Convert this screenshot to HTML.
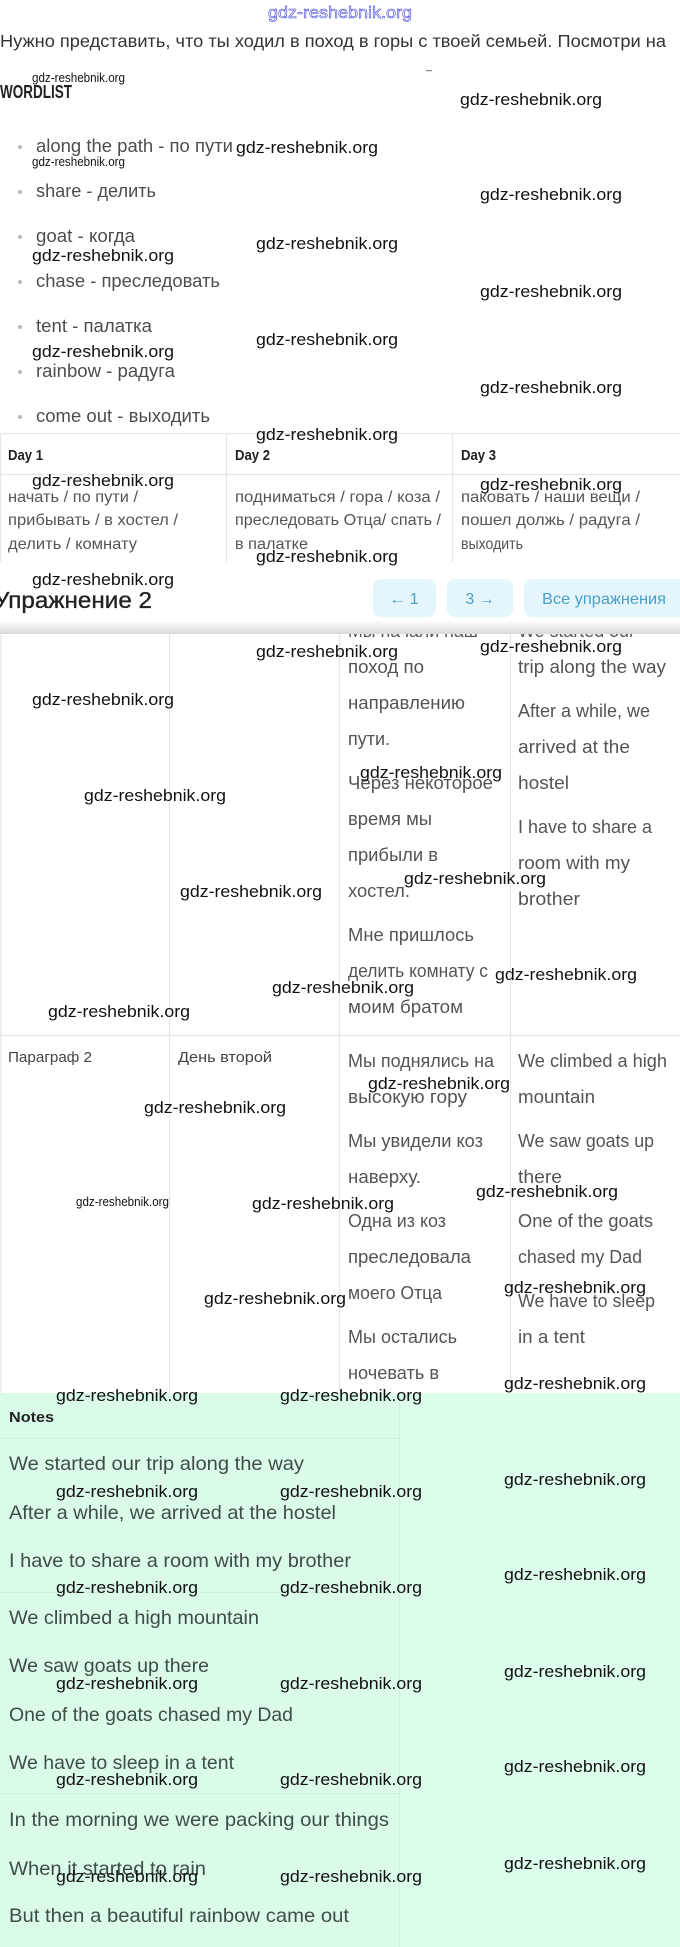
<!DOCTYPE html>
<html><head><meta charset="utf-8">
<style>
html,body{margin:0;padding:0;background:#fff;}
svg{display:block}
text{font-family:"Liberation Sans","DejaVu Sans",sans-serif;}
.wm{font-family:"Liberation Sans Narrow","Liberation Sans",sans-serif;fill:#111;font-size:17px}
.wms{font-family:"Liberation Sans Narrow","Liberation Sans",sans-serif;fill:#111;font-size:12.5px}
.li{font-size:18px;fill:#4d4d4d}
.hd{font-family:"Liberation Sans Narrow","Liberation Sans",sans-serif;font-weight:bold;fill:#222}
.tb{font-size:16px;fill:#555}
.tc{font-size:18px;fill:#545454}
.nt{font-size:19.5px;fill:#3f4d47}
.nr{font-family:"Liberation Sans Narrow","Liberation Sans",sans-serif;font-size:15px;fill:#444}
.bt{font-size:16px;fill:#4aa0c6}
</style></head><body>
<svg xmlns="http://www.w3.org/2000/svg" width="680" height="1947" viewBox="0 0 680 1947">
<defs>
<linearGradient id="sh" x1="0" y1="0" x2="0" y2="1">
<stop offset="0" stop-color="#ffffff"/>
<stop offset="1" stop-color="#d9d9d9"/>
</linearGradient>
<clipPath id="c2"><rect x="0" y="634" width="680" height="759"/></clipPath>
</defs>
<rect x="0" y="0" width="680" height="1947" fill="#fff"/>

<!-- top watermark -->
<text x="268" y="18" font-size="17" fill="#fff" stroke="#3434d8" stroke-width="0.55" textLength="144" lengthAdjust="spacingAndGlyphs" style="font-family:'Liberation Sans Narrow','Liberation Sans',sans-serif">gdz-reshebnik.org</text>

<!-- intro -->
<text x="0" y="47" font-size="17.5" fill="#333" textLength="666" lengthAdjust="spacingAndGlyphs">Нужно представить, что ты ходил в поход в горы с твоей семьей. Посмотри на</text>
<rect x="426" y="70" width="6" height="1.2" fill="#888"/>

<!-- WORDLIST -->
<text class="hd" x="0" y="98" font-size="18" textLength="72" lengthAdjust="spacingAndGlyphs">WORDLIST</text>

<!-- list -->
<g fill="#b8b8b8">
<circle cx="20" cy="147" r="2"/><circle cx="20" cy="192" r="2"/><circle cx="20" cy="237" r="2"/>
<circle cx="20" cy="282" r="2"/><circle cx="20" cy="327" r="2"/><circle cx="20" cy="372" r="2"/>
<circle cx="20" cy="417" r="2"/>
</g>
<text class="li" x="36" y="152" textLength="197" lengthAdjust="spacingAndGlyphs">along the path - по пути</text>
<text class="li" x="36" y="197" textLength="120" lengthAdjust="spacingAndGlyphs">share - делить</text>
<text class="li" x="36" y="242" textLength="99" lengthAdjust="spacingAndGlyphs">goat - когда</text>
<text class="li" x="36" y="287" textLength="184" lengthAdjust="spacingAndGlyphs">chase - преследовать</text>
<text class="li" x="36" y="332" textLength="116" lengthAdjust="spacingAndGlyphs">tent - палатка</text>
<text class="li" x="36" y="377" textLength="139" lengthAdjust="spacingAndGlyphs">rainbow - радуга</text>
<text class="li" x="36" y="422" textLength="174" lengthAdjust="spacingAndGlyphs">come out - выходить</text>

<!-- table 1 -->
<g stroke="#e6e6e6" stroke-width="1.2">
<line x1="0" y1="433.5" x2="680" y2="433.5"/>
<line x1="0" y1="474.5" x2="680" y2="474.5"/>
<line x1="226.5" y1="433" x2="226.5" y2="562"/>
<line x1="452.5" y1="433" x2="452.5" y2="562"/>
<line x1="0.5" y1="433" x2="0.5" y2="562"/>
</g>
<text class="hd" x="8" y="460" font-size="15" textLength="35" lengthAdjust="spacingAndGlyphs">Day 1</text>
<text class="hd" x="235" y="460" font-size="15" textLength="35" lengthAdjust="spacingAndGlyphs">Day 2</text>
<text class="hd" x="461" y="460" font-size="15" textLength="35" lengthAdjust="spacingAndGlyphs">Day 3</text>

<text class="tb" x="8" y="502" textLength="130" lengthAdjust="spacingAndGlyphs">начать / по пути /</text>
<text class="tb" x="8" y="525" textLength="170" lengthAdjust="spacingAndGlyphs">прибывать / в хостел /</text>
<text class="tb" x="8" y="549" textLength="129" lengthAdjust="spacingAndGlyphs">делить / комнату</text>
<text class="tb" x="235" y="502" textLength="205" lengthAdjust="spacingAndGlyphs">подниматься / гора / коза /</text>
<text class="tb" x="235" y="525" textLength="206" lengthAdjust="spacingAndGlyphs">преследовать Отца/ спать /</text>
<text class="tb" x="235" y="549" textLength="73" lengthAdjust="spacingAndGlyphs">в палатке</text>
<text class="tb" x="461" y="502" textLength="179" lengthAdjust="spacingAndGlyphs">паковать / наши вещи /</text>
<text class="tb" x="461" y="525" textLength="179" lengthAdjust="spacingAndGlyphs">пошел должь / радуга /</text>
<text class="tb" x="461" y="549" textLength="62" lengthAdjust="spacingAndGlyphs">выходить</text>

<!-- table 2 -->
<g clip-path="url(#c2)">
<g stroke="#e6e6e6" stroke-width="1.2">
<line x1="1" y1="634" x2="1" y2="1393"/>
<line x1="169.5" y1="634" x2="169.5" y2="1393"/>
<line x1="339.5" y1="634" x2="339.5" y2="1393"/>
<line x1="510.5" y1="634" x2="510.5" y2="1393"/>
<line x1="0" y1="1035.5" x2="680" y2="1035.5"/>
</g>
<text class="tc" x="348" y="637" textLength="130" lengthAdjust="spacingAndGlyphs">Мы начали наш</text>
<text class="tc" x="348" y="673" textLength="76" lengthAdjust="spacingAndGlyphs">поход по</text>
<text class="tc" x="348" y="709" textLength="117" lengthAdjust="spacingAndGlyphs">направлению</text>
<text class="tc" x="348" y="745" textLength="42" lengthAdjust="spacingAndGlyphs">пути.</text>
<text class="tc" x="348" y="789" textLength="145" lengthAdjust="spacingAndGlyphs">Через некоторое</text>
<text class="tc" x="348" y="825" textLength="84" lengthAdjust="spacingAndGlyphs">время мы</text>
<text class="tc" x="348" y="861" textLength="90" lengthAdjust="spacingAndGlyphs">прибыли в</text>
<text class="tc" x="348" y="897" textLength="62" lengthAdjust="spacingAndGlyphs">хостел.</text>
<text class="tc" x="348" y="941" textLength="126" lengthAdjust="spacingAndGlyphs">Мне пришлось</text>
<text class="tc" x="348" y="977" textLength="140" lengthAdjust="spacingAndGlyphs">делить комнату с</text>
<text class="tc" x="348" y="1013" textLength="115" lengthAdjust="spacingAndGlyphs">моим братом</text>

<text class="tc" x="518" y="637" textLength="117" lengthAdjust="spacingAndGlyphs">We started our</text>
<text class="tc" x="518" y="673" textLength="148" lengthAdjust="spacingAndGlyphs">trip along the way</text>
<text class="tc" x="518" y="717" textLength="132" lengthAdjust="spacingAndGlyphs">After a while, we</text>
<text class="tc" x="518" y="753" textLength="112" lengthAdjust="spacingAndGlyphs">arrived at the</text>
<text class="tc" x="518" y="789" textLength="51" lengthAdjust="spacingAndGlyphs">hostel</text>
<text class="tc" x="518" y="833" textLength="134" lengthAdjust="spacingAndGlyphs">I have to share a</text>
<text class="tc" x="518" y="869" textLength="112" lengthAdjust="spacingAndGlyphs">room with my</text>
<text class="tc" x="518" y="905" textLength="62" lengthAdjust="spacingAndGlyphs">brother</text>

<text class="nr" x="8" y="1062" textLength="84" lengthAdjust="spacingAndGlyphs">Параграф 2</text>
<text class="nr" x="178" y="1062" textLength="94" lengthAdjust="spacingAndGlyphs">День второй</text>

<text class="tc" x="348" y="1067" textLength="146" lengthAdjust="spacingAndGlyphs">Мы поднялись на</text>
<text class="tc" x="348" y="1103" textLength="119" lengthAdjust="spacingAndGlyphs">высокую гору</text>
<text class="tc" x="348" y="1147" textLength="135" lengthAdjust="spacingAndGlyphs">Мы увидели коз</text>
<text class="tc" x="348" y="1183" textLength="73" lengthAdjust="spacingAndGlyphs">наверху.</text>
<text class="tc" x="348" y="1227" textLength="98" lengthAdjust="spacingAndGlyphs">Одна из коз</text>
<text class="tc" x="348" y="1263" textLength="123" lengthAdjust="spacingAndGlyphs">преследовала</text>
<text class="tc" x="348" y="1299" textLength="94" lengthAdjust="spacingAndGlyphs">моего Отца</text>
<text class="tc" x="348" y="1343" textLength="109" lengthAdjust="spacingAndGlyphs">Мы остались</text>
<text class="tc" x="348" y="1379" textLength="91" lengthAdjust="spacingAndGlyphs">ночевать в</text>

<text class="tc" x="518" y="1067" textLength="149" lengthAdjust="spacingAndGlyphs">We climbed a high</text>
<text class="tc" x="518" y="1103" textLength="77" lengthAdjust="spacingAndGlyphs">mountain</text>
<text class="tc" x="518" y="1147" textLength="136" lengthAdjust="spacingAndGlyphs">We saw goats up</text>
<text class="tc" x="518" y="1183" textLength="44" lengthAdjust="spacingAndGlyphs">there</text>
<text class="tc" x="518" y="1227" textLength="135" lengthAdjust="spacingAndGlyphs">One of the goats</text>
<text class="tc" x="518" y="1263" textLength="124" lengthAdjust="spacingAndGlyphs">chased my Dad</text>
<text class="tc" x="518" y="1307" textLength="137" lengthAdjust="spacingAndGlyphs">We have to sleep</text>
<text class="tc" x="518" y="1343" textLength="67" lengthAdjust="spacingAndGlyphs">in a tent</text>
</g>

<!-- sticky header band -->
<rect x="0" y="562" width="680" height="72" fill="#fff"/>
<rect x="0" y="620" width="680" height="14" fill="url(#sh)"/>
<text x="-6" y="608" font-size="23" fill="#222" stroke="#222" stroke-width="0.35" textLength="158" lengthAdjust="spacingAndGlyphs">Упражнение 2</text>
<rect x="373" y="579" width="63" height="38" rx="8" fill="#e4f6fb"/>
<rect x="447" y="579" width="66" height="38" rx="8" fill="#e4f6fb"/>
<rect x="524" y="579" width="170" height="38" rx="8" fill="#e4f6fb"/>
<text class="bt" x="404" y="604" text-anchor="middle">← 1</text>
<text class="bt" x="480" y="604" text-anchor="middle">3 →</text>
<text class="bt" x="542" y="604" textLength="124" lengthAdjust="spacingAndGlyphs">Все упражнения</text>

<!-- Notes area -->
<rect x="0" y="1393" width="680" height="554" fill="#ddfdeb"/>
<rect x="0" y="1393" width="399" height="554" fill="#dbfbe9"/>
<g stroke="#d0f0de" stroke-width="1">
<line x1="399.5" y1="1393" x2="399.5" y2="1947"/>
<line x1="0" y1="1438.5" x2="399" y2="1438.5"/>
<line x1="0" y1="1592.5" x2="399" y2="1592.5"/>
<line x1="0" y1="1793.5" x2="399" y2="1793.5"/>
</g>
<text class="hd" x="9" y="1422" font-size="15" textLength="45" lengthAdjust="spacingAndGlyphs">Notes</text>
<text class="nt" x="9" y="1470" textLength="295" lengthAdjust="spacingAndGlyphs">We started our trip along the way</text>
<text class="nt" x="9" y="1519" textLength="327" lengthAdjust="spacingAndGlyphs">After a while, we arrived at the hostel</text>
<text class="nt" x="9" y="1567" textLength="342" lengthAdjust="spacingAndGlyphs">I have to share a room with my brother</text>
<text class="nt" x="9" y="1624" textLength="250" lengthAdjust="spacingAndGlyphs">We climbed a high mountain</text>
<text class="nt" x="9" y="1672" textLength="200" lengthAdjust="spacingAndGlyphs">We saw goats up there</text>
<text class="nt" x="9" y="1721" textLength="284" lengthAdjust="spacingAndGlyphs">One of the goats chased my Dad</text>
<text class="nt" x="9" y="1769" textLength="225" lengthAdjust="spacingAndGlyphs">We have to sleep in a tent</text>
<text class="nt" x="9" y="1826" textLength="380" lengthAdjust="spacingAndGlyphs">In the morning we were packing our things</text>
<text class="nt" x="9" y="1875" textLength="197" lengthAdjust="spacingAndGlyphs">When it started to rain</text>
<text class="nt" x="9" y="1922" textLength="340" lengthAdjust="spacingAndGlyphs">But then a beautiful rainbow came out</text>

<!-- watermarks -->
<g class="wm">
<text x="460" y="105" textLength="142" lengthAdjust="spacingAndGlyphs">gdz-reshebnik.org</text>
<text x="236" y="153" textLength="142" lengthAdjust="spacingAndGlyphs">gdz-reshebnik.org</text>
<text x="480" y="200" textLength="142" lengthAdjust="spacingAndGlyphs">gdz-reshebnik.org</text>
<text x="256" y="249" textLength="142" lengthAdjust="spacingAndGlyphs">gdz-reshebnik.org</text>
<text x="32" y="261" textLength="142" lengthAdjust="spacingAndGlyphs">gdz-reshebnik.org</text>
<text x="480" y="297" textLength="142" lengthAdjust="spacingAndGlyphs">gdz-reshebnik.org</text>
<text x="256" y="345" textLength="142" lengthAdjust="spacingAndGlyphs">gdz-reshebnik.org</text>
<text x="32" y="357" textLength="142" lengthAdjust="spacingAndGlyphs">gdz-reshebnik.org</text>
<text x="480" y="393" textLength="142" lengthAdjust="spacingAndGlyphs">gdz-reshebnik.org</text>
<text x="256" y="440" textLength="142" lengthAdjust="spacingAndGlyphs">gdz-reshebnik.org</text>
<text x="32" y="486" textLength="142" lengthAdjust="spacingAndGlyphs">gdz-reshebnik.org</text>
<text x="480" y="490" textLength="142" lengthAdjust="spacingAndGlyphs">gdz-reshebnik.org</text>
<text x="256" y="562" textLength="142" lengthAdjust="spacingAndGlyphs">gdz-reshebnik.org</text>
<text x="32" y="585" textLength="142" lengthAdjust="spacingAndGlyphs">gdz-reshebnik.org</text>
<text x="480" y="652" textLength="142" lengthAdjust="spacingAndGlyphs">gdz-reshebnik.org</text>
<text x="256" y="657" textLength="142" lengthAdjust="spacingAndGlyphs">gdz-reshebnik.org</text>
<text x="32" y="705" textLength="142" lengthAdjust="spacingAndGlyphs">gdz-reshebnik.org</text>
<text x="360" y="778" textLength="142" lengthAdjust="spacingAndGlyphs">gdz-reshebnik.org</text>
<text x="84" y="801" textLength="142" lengthAdjust="spacingAndGlyphs">gdz-reshebnik.org</text>
<text x="404" y="884" textLength="142" lengthAdjust="spacingAndGlyphs">gdz-reshebnik.org</text>
<text x="180" y="897" textLength="142" lengthAdjust="spacingAndGlyphs">gdz-reshebnik.org</text>
<text x="495" y="980" textLength="142" lengthAdjust="spacingAndGlyphs">gdz-reshebnik.org</text>
<text x="272" y="993" textLength="142" lengthAdjust="spacingAndGlyphs">gdz-reshebnik.org</text>
<text x="48" y="1017" textLength="142" lengthAdjust="spacingAndGlyphs">gdz-reshebnik.org</text>
<text x="368" y="1089" textLength="142" lengthAdjust="spacingAndGlyphs">gdz-reshebnik.org</text>
<text x="144" y="1113" textLength="142" lengthAdjust="spacingAndGlyphs">gdz-reshebnik.org</text>
<text x="476" y="1197" textLength="142" lengthAdjust="spacingAndGlyphs">gdz-reshebnik.org</text>
<text x="252" y="1209" textLength="142" lengthAdjust="spacingAndGlyphs">gdz-reshebnik.org</text>
<text x="504" y="1293" textLength="142" lengthAdjust="spacingAndGlyphs">gdz-reshebnik.org</text>
<text x="204" y="1304" textLength="142" lengthAdjust="spacingAndGlyphs">gdz-reshebnik.org</text>
<text x="504" y="1389" textLength="142" lengthAdjust="spacingAndGlyphs">gdz-reshebnik.org</text>
<text x="56" y="1401" textLength="142" lengthAdjust="spacingAndGlyphs">gdz-reshebnik.org</text>
<text x="280" y="1401" textLength="142" lengthAdjust="spacingAndGlyphs">gdz-reshebnik.org</text>
<text x="504" y="1485" textLength="142" lengthAdjust="spacingAndGlyphs">gdz-reshebnik.org</text>
<text x="56" y="1497" textLength="142" lengthAdjust="spacingAndGlyphs">gdz-reshebnik.org</text>
<text x="280" y="1497" textLength="142" lengthAdjust="spacingAndGlyphs">gdz-reshebnik.org</text>
<text x="504" y="1580" textLength="142" lengthAdjust="spacingAndGlyphs">gdz-reshebnik.org</text>
<text x="56" y="1593" textLength="142" lengthAdjust="spacingAndGlyphs">gdz-reshebnik.org</text>
<text x="280" y="1593" textLength="142" lengthAdjust="spacingAndGlyphs">gdz-reshebnik.org</text>
<text x="504" y="1677" textLength="142" lengthAdjust="spacingAndGlyphs">gdz-reshebnik.org</text>
<text x="56" y="1689" textLength="142" lengthAdjust="spacingAndGlyphs">gdz-reshebnik.org</text>
<text x="280" y="1689" textLength="142" lengthAdjust="spacingAndGlyphs">gdz-reshebnik.org</text>
<text x="504" y="1772" textLength="142" lengthAdjust="spacingAndGlyphs">gdz-reshebnik.org</text>
<text x="56" y="1785" textLength="142" lengthAdjust="spacingAndGlyphs">gdz-reshebnik.org</text>
<text x="280" y="1785" textLength="142" lengthAdjust="spacingAndGlyphs">gdz-reshebnik.org</text>
<text x="504" y="1869" textLength="142" lengthAdjust="spacingAndGlyphs">gdz-reshebnik.org</text>
<text x="56" y="1882" textLength="142" lengthAdjust="spacingAndGlyphs">gdz-reshebnik.org</text>
<text x="280" y="1882" textLength="142" lengthAdjust="spacingAndGlyphs">gdz-reshebnik.org</text>
</g>
<text class="wms" x="32" y="82" textLength="93" lengthAdjust="spacingAndGlyphs">gdz-reshebnik.org</text>
<text class="wms" x="32" y="166" textLength="93" lengthAdjust="spacingAndGlyphs">gdz-reshebnik.org</text>
<text class="wms" x="76" y="1206" font-size="11.5" textLength="93" lengthAdjust="spacingAndGlyphs">gdz-reshebnik.org</text>
</svg>
</body></html>
